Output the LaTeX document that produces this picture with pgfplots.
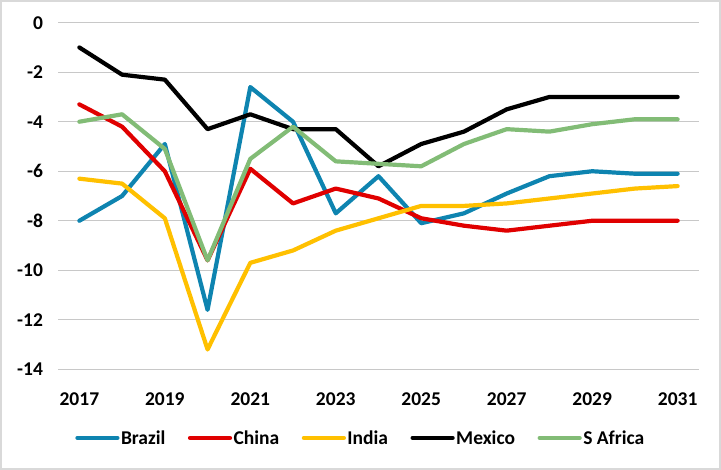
\documentclass[border=0pt]{standalone}
\usepackage{fontspec}
\setmainfont{Carlito}
\usepackage{pgfplots}
\pgfplotsset{compat=1.18}
\definecolor{cBrazil}{RGB}{14,132,176}
\definecolor{cChina}{RGB}{224,0,0}
\definecolor{cIndia}{RGB}{255,192,0}
\definecolor{cMexico}{RGB}{0,0,0}
\definecolor{cSA}{RGB}{130,188,118}
\definecolor{cGrid}{RGB}{200,200,200}
\definecolor{cFrame}{RGB}{217,217,217}
\newcommand\cf{\fontsize{19.5bp}{23bp}\selectfont\bfseries}
\begin{document}
\begin{tikzpicture}
\useasboundingbox (0,0) rectangle (721bp,470bp);
\begin{axis}[
  at={(58bp,100.7bp)}, anchor=south west,
  scale only axis, width=641bp, height=346.6bp,
  xmin=2016.5, xmax=2031.5, ymin=-14, ymax=0,
  xtick={2017,2019,...,2031}, ytick={-14,-12,...,0},
  axis line style={draw=none},
  tick style={draw=none},
  ymajorgrids, grid style={cGrid, line width=1.3bp},
  /pgf/number format/assume math mode=true,
  /pgf/number format/set thousands separator={},
  xticklabel style={font=\cf, yshift=-20bp},
  yticklabel style={font=\cf, xshift=-11.5bp},
  every axis plot/.append style={line width=4.2bp, line cap=round, line join=round},
  legend style={at={(0.472,-0.198)}, anchor=center, draw=none, fill=none,
    font=\cf, legend columns=-1,
    /tikz/every even column/.append style={column sep=21bp},
    nodes={inner sep=1.5bp}},
  legend image code/.code={\draw[#1, line width=4.2bp, line cap=round] (0bp,0bp) -- (40bp,0bp);},
]
\addplot[cBrazil] coordinates {(2017,-8.0)(2018,-7.0)(2019,-4.9)(2020,-11.6)(2021,-2.6)(2022,-4.0)(2023,-7.7)(2024,-6.2)(2025,-8.1)(2026,-7.7)(2027,-6.9)(2028,-6.2)(2029,-6.0)(2030,-6.1)(2031,-6.1)};
\addlegendentry{Brazil}
\addplot[cChina] coordinates {(2017,-3.3)(2018,-4.2)(2019,-6.0)(2020,-9.6)(2021,-5.9)(2022,-7.3)(2023,-6.7)(2024,-7.1)(2025,-7.9)(2026,-8.2)(2027,-8.4)(2028,-8.2)(2029,-8.0)(2030,-8.0)(2031,-8.0)};
\addlegendentry{China}
\addplot[cIndia] coordinates {(2017,-6.3)(2018,-6.5)(2019,-7.9)(2020,-13.2)(2021,-9.7)(2022,-9.2)(2023,-8.4)(2024,-7.9)(2025,-7.4)(2026,-7.4)(2027,-7.3)(2028,-7.1)(2029,-6.9)(2030,-6.7)(2031,-6.6)};
\addlegendentry{India}
\addplot[cMexico] coordinates {(2017,-1.0)(2018,-2.1)(2019,-2.3)(2020,-4.3)(2021,-3.7)(2022,-4.3)(2023,-4.3)(2024,-5.8)(2025,-4.9)(2026,-4.4)(2027,-3.5)(2028,-3.0)(2029,-3.0)(2030,-3.0)(2031,-3.0)};
\addlegendentry{Mexico}
\addplot[cSA] coordinates {(2017,-4.0)(2018,-3.7)(2019,-5.1)(2020,-9.6)(2021,-5.5)(2022,-4.2)(2023,-5.6)(2024,-5.7)(2025,-5.8)(2026,-4.9)(2027,-4.3)(2028,-4.4)(2029,-4.1)(2030,-3.9)(2031,-3.9)};
\addlegendentry{S Africa}
\end{axis}
\draw[cFrame, line width=2bp] (1bp,1bp) rectangle (720bp,469bp);
\end{tikzpicture}
\end{document}
